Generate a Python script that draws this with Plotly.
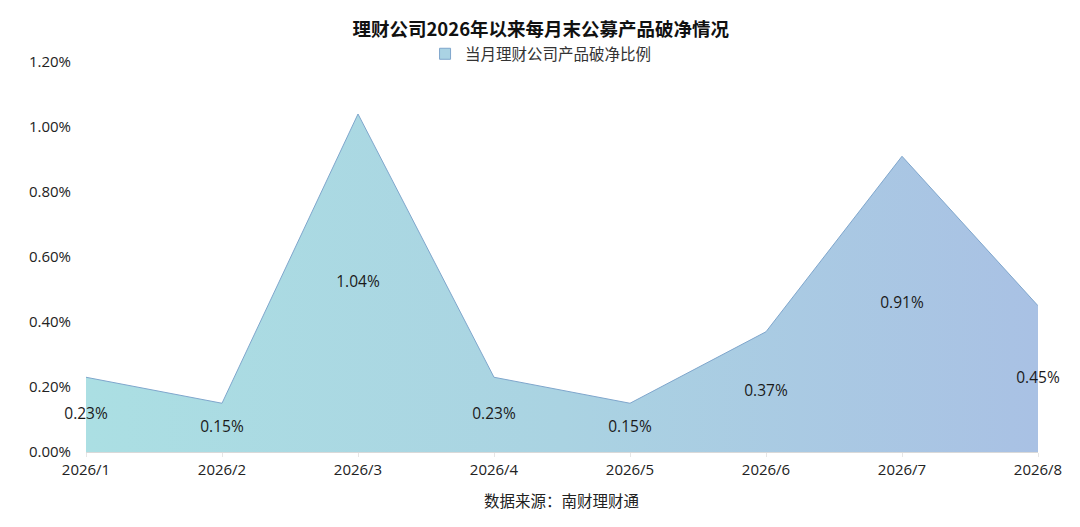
import plotly.graph_objects as go

months = ["2026/1", "2026/2", "2026/3", "2026/4", "2026/5", "2026/6", "2026/7", "2026/8"]
ratio = [0.23, 0.15, 1.04, 0.23, 0.15, 0.37, 0.91, 0.45]
yticks = [0, 0.2, 0.4, 0.6, 0.8, 1.0, 1.2]
series_name = "当月理财公司产品破净比例"

font = "Noto Sans CJK SC"
numfont = "Open Sans, Noto Sans CJK SC"
xs = list(range(len(months)))

fig = go.Figure()
fig.add_trace(go.Scatter(
    x=xs, y=ratio, mode="lines", fill="tozeroy",
    name=series_name, showlegend=False,
    line=dict(color="#7fa6cc", width=1),
    fillgradient=dict(type="horizontal",
                      colorscale=[[0, "#abdfe3"], [0.5, "#aad3e2"], [1, "#a9c1e4"]]),
    hoverinfo="skip",
))
# legend entry only: small square swatch like the original
fig.add_trace(go.Scatter(
    x=[None], y=[None], mode="markers", name=series_name,
    marker=dict(symbol="square", size=11, color="#aad3e4",
                line=dict(color="#7fa6cc", width=1)),
))
# labels sit halfway up the area
fig.add_trace(go.Scatter(
    x=xs, y=[v / 2 for v in ratio], mode="text",
    text=["%.2f%%" % v for v in ratio],
    textfont=dict(family=numfont, size=15.5, color="#1a1a1a"),
    cliponaxis=False, showlegend=False, hoverinfo="skip",
))

# page body has an 8px margin, so the figure is a bit smaller than the window
fig.update_layout(
    width=1072, height=519,
    paper_bgcolor="white", plot_bgcolor="white",
    margin=dict(l=78, r=42, t=54, b=75),
    font=dict(family=font, size=14, color="#222"),
    title=dict(text="<b>理财公司2026年以来每月末公募产品破净情况</b>",
               x=0.497, xanchor="center", y=0.958, yanchor="middle",
               font=dict(size=18.5, color="#111")),
    legend=dict(orientation="h", x=0.478, xanchor="center", y=1.02, yanchor="middle",
                font=dict(size=15.5, color="#333"), bgcolor="rgba(0,0,0,0)",
                itemwidth=30),
    xaxis=dict(range=[0, len(months) - 1], tickvals=xs, ticktext=months,
               showgrid=False, zeroline=False, showline=True, linecolor="#d9d9d9",
               ticks="outside", ticklen=4, tickcolor="#e6e6e6",
               tickfont=dict(family=numfont, size=15, color="#222")),
    yaxis=dict(range=[0, 1.2], tickvals=yticks,
               ticktext=["%.2f%%" % v for v in yticks],
               showgrid=False, zeroline=False, showline=False,
               ticklabelstandoff=14,
               tickfont=dict(family=numfont, size=15, color="#222")),
    annotations=[dict(text="数据来源：南财理财通", xref="paper", yref="paper",
                      x=0.5, y=-0.123, xanchor="center", yanchor="middle",
                      showarrow=False, font=dict(size=15.5, color="#222"))],
)

fig.write_html("out.html")
